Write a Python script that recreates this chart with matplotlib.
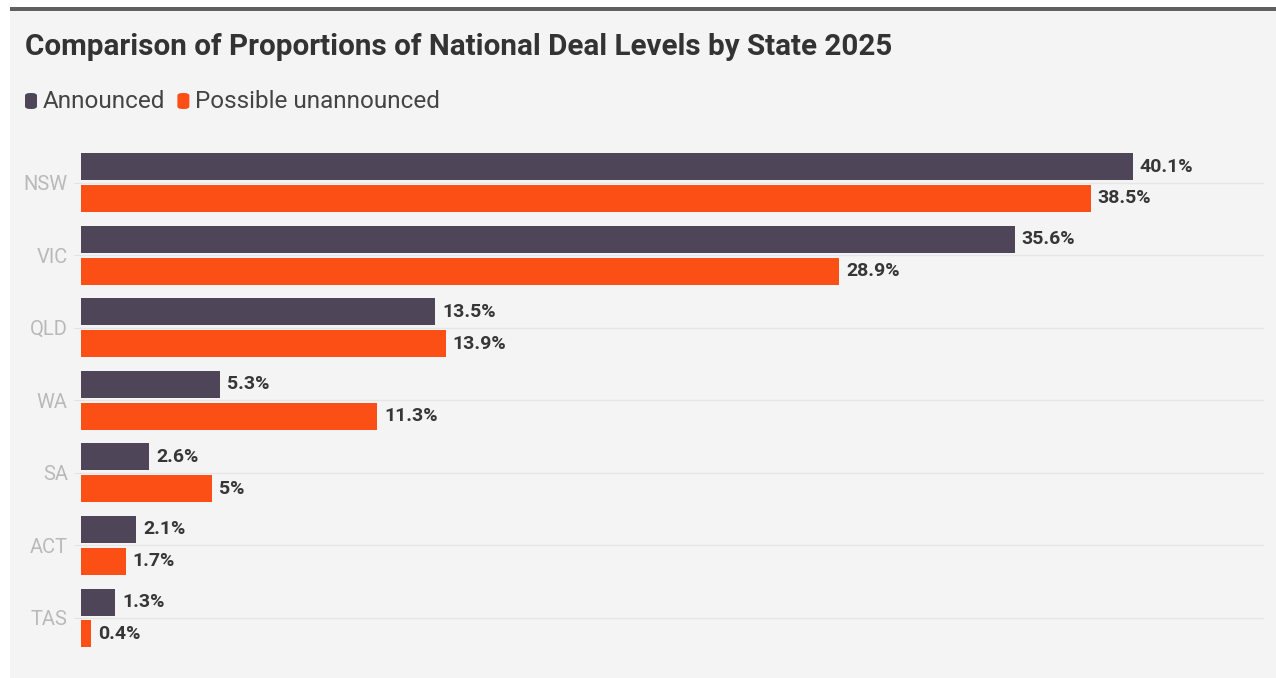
import numpy as np
import matplotlib
matplotlib.use("Agg")
import matplotlib.pyplot as plt
from matplotlib.patches import Rectangle, FancyBboxPatch

plt.rcParams['font.family'] = ['Roboto', 'DejaVu Sans']

states = ['NSW', 'VIC', 'QLD', 'WA', 'SA', 'ACT', 'TAS']
announced = [40.1, 35.6, 13.5, 5.3, 2.6, 2.1, 1.3]
unannounced = [38.5, 28.9, 13.9, 11.3, 5, 1.7, 0.4]
value_labels_a = ['40.1%', '35.6%', '13.5%', '5.3%', '2.6%', '2.1%', '1.3%']
value_labels_u = ['38.5%', '28.9%', '13.9%', '11.3%', '5%', '1.7%', '0.4%']

c_ann = '#4f4559'
c_unn = '#fc4f16'
W, H = 1276, 678

fig = plt.figure(figsize=(W / 100, H / 100), dpi=100)
fig.patch.set_facecolor('white')

# card background and top rule
fig.patches.append(Rectangle((10 / W, 0), 1 - 10 / W, 1 - 10 / H,
                             transform=fig.transFigure, facecolor='#f4f4f4',
                             edgecolor='none', zorder=-2))
fig.patches.append(Rectangle((10 / W, 1 - 11 / H), 1 - 10 / W, 4 / H,
                             transform=fig.transFigure, facecolor='#606060',
                             edgecolor='none', zorder=-1))

fig.text(25 / W, 1 - 47 / H, 'Comparison of Proportions of National Deal Levels by State 2025',
         fontsize=21.3, fontweight='bold', color='#333333', va='center', ha='left')

# legend
x = 25
for label, col in [('Announced', c_ann), ('Possible unannounced', c_unn)]:
    fig.patches.append(FancyBboxPatch((x / W, 1 - 109 / H), 12 / W, 16 / H,
                                      boxstyle='round,pad=0,rounding_size=0.004',
                                      transform=fig.transFigure, facecolor=col,
                                      edgecolor='none', zorder=2))
    t = fig.text((x + 18) / W, 1 - 102 / H, label, fontsize=17.5, color='#444444',
                 va='center', ha='left')
    fig.canvas.draw()
    bb = t.get_window_extent()
    x = bb.x1 + 12

ax = fig.add_axes([81 / W, 1 - 655 / H, (1264 - 81) / W, 510 / H])
ax.set_zorder(3)
ax.set_facecolor('none')

y = np.arange(len(states))
h = 0.372
off = 0.22
b1 = ax.barh(y - off, announced, height=h, color=c_ann, zorder=3)
b2 = ax.barh(y + off, unannounced, height=h, color=c_unn, zorder=3)
ax.bar_label(b1, labels=value_labels_a, padding=5, fontsize=14, fontweight='bold', color='#363636')
ax.bar_label(b2, labels=value_labels_u, padding=5, fontsize=14, fontweight='bold', color='#363636')

ax.set_xlim(0, 45.1)
ax.set_ylim(6.51, -0.517)
ax.set_yticks(y)
ax.set_yticklabels(states, fontsize=14.5, color='#b9b9b9')
ax.set_xticks([])
ax.tick_params(axis='y', length=5, color='#e2e2e2', pad=4.5)
ax.yaxis.grid(True, color='#e6e6e6', linewidth=1, zorder=0)
ax.set_axisbelow(True)
for s in ax.spines.values():
    s.set_visible(False)

fig.savefig('out.png', dpi=100, facecolor=fig.get_facecolor())
